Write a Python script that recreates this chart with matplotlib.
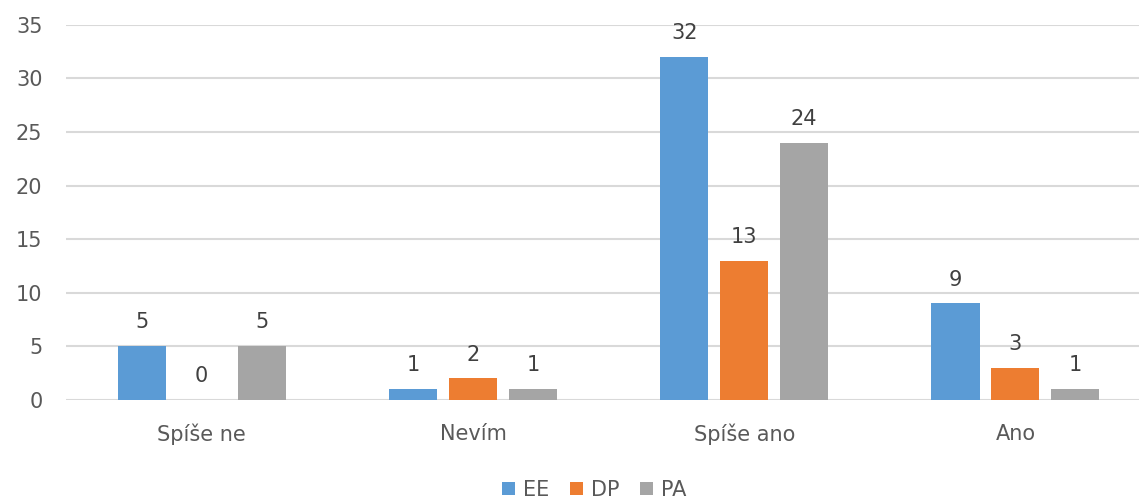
import matplotlib.pyplot as plt
import numpy as np

categories = ["Spíše ne", "Nevím", "Spíše ano", "Ano"]
series_names = ["EE", "DP", "PA"]
ee = [5, 1, 32, 9]
dp = [0, 2, 13, 3]
pa = [5, 1, 24, 1]
colors = ["#5B9BD5", "#ED7D31", "#A5A5A5"]

plt.rcParams["font.family"] = ["DejaVu Sans"]
text_color = "#595959"

fig = plt.figure(figsize=(11.39, 4.98), dpi=100)
ax = fig.add_axes([0.058, 0.197, 0.9526, 0.753])

x = np.arange(len(categories))
width = 0.177
offset = 0.221
for i, (vals, name, col) in enumerate(zip([ee, dp, pa], series_names, colors)):
    bars = ax.bar(x + (i - 1) * offset, vals, width, color=col, label=name, zorder=3)
    for b, v in zip(bars, vals):
        ax.text(b.get_x() + b.get_width() / 2, v + 1.3, str(v), ha="center", va="bottom",
                fontsize=15, color="#404040")

ax.set_xlim(-0.5, len(categories) - 0.5)
ax.set_ylim(0, 35)
ax.set_yticks(range(0, 36, 5))
ax.grid(axis="y", color="#D9D9D9", linewidth=1.5, zorder=0)
ax.set_xticks(x)
ax.set_xticklabels(categories)
ax.tick_params(axis="both", length=0, labelsize=15, labelcolor=text_color)
ax.tick_params(axis="x", pad=17)
ax.tick_params(axis="y", pad=17)
for s in ax.spines.values():
    s.set_visible(False)

fig.legend(loc="center", bbox_to_anchor=(0.522, 0.016), ncol=3, frameon=False,
           fontsize=15, handlelength=0.6, handleheight=0.6, handletextpad=0.4,
           columnspacing=1.0, labelcolor=text_color)

fig.savefig("out.png", dpi=100)
